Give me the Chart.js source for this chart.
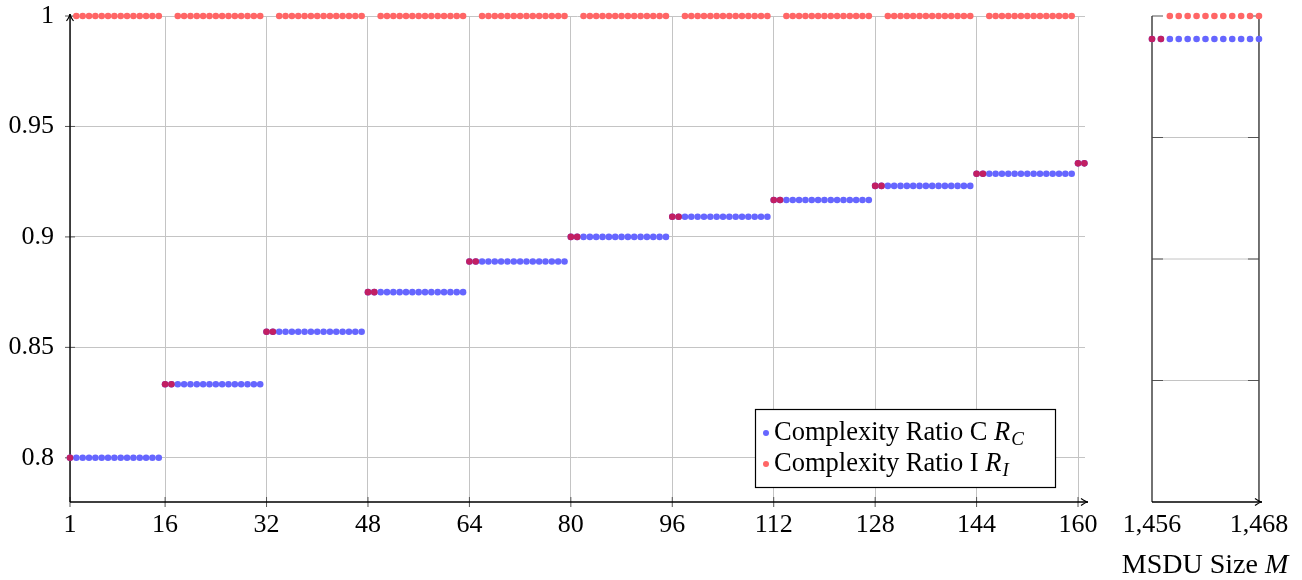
<!DOCTYPE html>
<html>
<head>
<meta charset="utf-8">
<script src="https://cdn.jsdelivr.net/npm/chart.js@4/dist/chart.umd.min.js"></script>
<style>
body { margin: 0; background: #fff; width: 1302px; height: 580px; overflow: hidden; position: relative; }
canvas { position: absolute; top: 0; }
#left { left: 0; }
#right { left: 1100px; }
</style>
</head>
<body>
<canvas id="left" width="1100" height="580"></canvas>
<canvas id="right" width="202" height="580"></canvas>
<script>
// left panel, read as runs of equal R_C: first M, last M, level
const runFirstM = [1, 16, 32, 48, 64, 80, 96, 112, 128, 144, 160];
const runLastM = [15, 31, 47, 63, 79, 95, 111, 127, 143, 159, 161];
const levelC = [0.8, 0.8333, 0.8571, 0.875, 0.8889, 0.9, 0.9091, 0.9167, 0.9231, 0.9286, 0.9333];
// how many points at the start of each run where R_I sits on R_C (else R_I = 1)
const sharedCount = [1, 2, 2, 2, 2, 2, 2, 2, 2, 2, 2];
const levelI = 1;

// right panel, point by point
const mRight = [1456, 1457, 1458, 1459, 1460, 1461, 1462, 1463, 1464, 1465, 1466, 1467, 1468];
const rcRight = [0.9896, 0.9896, 0.9896, 0.9896, 0.9896, 0.9896, 0.9896, 0.9896, 0.9896, 0.9896, 0.9896, 0.9896, 0.9896];
const riRight = [0.9896, 0.9896, 1, 1, 1, 1, 1, 1, 1, 1, 1, 1, 1];

const xTicksLeft = [1, 16, 32, 48, 64, 80, 96, 112, 128, 144, 160];
const xTicksRight = [1456, 1468];
const yTicksLeft = [0.8, 0.85, 0.9, 0.95, 1];
const yTicksRight = [0.78, 0.835, 0.89, 0.945, 1];

const COLORS = { c: '#6666ff', i: '#ff6666', both: '#c21f63', grid: '#c4c4c4', tick: '#555555' };
const FONT = "'Liberation Serif', 'DejaVu Serif', serif";

const leftC = [];
const leftI = [];
runFirstM.forEach((first, r) => {
    for (let m = first; m <= runLastM[r]; m++) {
        leftC.push({ x: m, y: levelC[r] });
        leftI.push({ x: m, y: m - first < sharedCount[r] ? levelC[r] : levelI });
    }
});
const rightC = mRight.map((m, k) => ({ x: m, y: rcRight[k] }));
const rightI = mRight.map((m, k) => ({ x: m, y: riRight[k] }));

const colorsI = (cPts, iPts) => iPts.map((p, k) => p.y === cPts[k].y ? COLORS.both : COLORS.i);

const arrow = (ctx, x, y, dx, dy) => {
    const px = -dy, py = dx;
    ctx.beginPath();
    ctx.moveTo(x - dx * 7 + px * 3.5, y - dy * 7 + py * 3.5);
    ctx.quadraticCurveTo(x - dx * 2, y - dy * 2, x, y);
    ctx.quadraticCurveTo(x - dx * 2, y - dy * 2, x - dx * 7 - px * 3.5, y - dy * 7 - py * 3.5);
    ctx.stroke();
};

const mathLabel = (ctx, x, y, plain, sym, sub, size = 26) => {
    ctx.textBaseline = 'middle';
    ctx.textAlign = 'left';
    ctx.font = size + 'px ' + FONT;
    ctx.fillText(plain, x, y);
    x += ctx.measureText(plain).width;
    ctx.font = 'italic ' + size + 'px ' + FONT;
    ctx.fillText(sym, x, y);
    x += ctx.measureText(sym).width + 1;
    if (sub) {
        ctx.font = 'italic 19px ' + FONT;
        ctx.fillText(sub, x, y + 7);
    }
};

const dataset = (label, pts, color) => ({
    label, data: pts, showLine: false, clip: false,
    pointRadius: 3.3, pointHoverRadius: 3.3, pointBorderWidth: 0,
    pointBackgroundColor: color, borderColor: color
});

const leftDecor = {
    id: 'leftDecor',
    beforeDatasetsDraw(chart) {
        const { ctx, chartArea: a, scales } = chart;
        ctx.save();
        ctx.strokeStyle = COLORS.tick;
        ctx.lineWidth = 1;
        xTicksLeft.forEach(v => {
            const x = scales.x.getPixelForValue(v);
            ctx.beginPath(); ctx.moveTo(x, a.bottom - 5); ctx.lineTo(x, a.bottom + 5); ctx.stroke();
        });
        yTicksLeft.forEach(v => {
            const y = scales.y.getPixelForValue(v);
            ctx.beginPath(); ctx.moveTo(a.left - 5, y); ctx.lineTo(a.left + 5, y); ctx.stroke();
        });
        ctx.strokeStyle = '#000';
        ctx.lineWidth = 1.4;
        ctx.beginPath();
        ctx.moveTo(a.left, a.bottom); ctx.lineTo(a.left, a.top - 2);
        ctx.moveTo(a.left, a.bottom); ctx.lineTo(a.right + 3, a.bottom);
        ctx.stroke();
        ctx.lineWidth = 1.2;
        arrow(ctx, a.left, a.top - 2, 0, -1);
        arrow(ctx, a.right + 3, a.bottom, 1, 0);
        ctx.restore();
    },
    afterDraw(chart) {
        const { ctx } = chart;
        ctx.save();
        ctx.fillStyle = '#fff';
        ctx.strokeStyle = '#000';
        ctx.lineWidth = 1.2;
        ctx.fillRect(755, 409, 300, 78);
        ctx.strokeRect(755.5, 409.5, 300, 78);
        const rows = [['Complexity Ratio C ', 'R', 'C', COLORS.c, 433], ['Complexity Ratio I ', 'R', 'I', COLORS.i, 464]];
        rows.forEach(([plain, sym, sub, color, y]) => {
            ctx.fillStyle = color;
            ctx.beginPath(); ctx.arc(766, y, 3, 0, Math.PI * 2); ctx.fill();
            ctx.fillStyle = '#000';
            mathLabel(ctx, 774, y, plain, sym, sub, 26.5);
        });
        ctx.restore();
    }
};

const rightDecor = {
    id: 'rightDecor',
    beforeDatasetsDraw(chart) {
        const { ctx, chartArea: a, scales } = chart;
        const xl = scales.x.getPixelForValue(xTicksRight[0]);
        const xr = scales.x.getPixelForValue(xTicksRight[1]);
        ctx.save();
        ctx.strokeStyle = COLORS.grid;
        ctx.lineWidth = 1;
        yTicksRight.slice(1, -1).forEach(v => {
            const y = scales.y.getPixelForValue(v);
            ctx.beginPath(); ctx.moveTo(xl, y); ctx.lineTo(xr, y); ctx.stroke();
        });
        ctx.strokeStyle = COLORS.tick;
        yTicksRight.slice(1).forEach(v => {
            const y = scales.y.getPixelForValue(v);
            ctx.beginPath();
            ctx.moveTo(xl, y); ctx.lineTo(xl + 11, y);
            ctx.moveTo(xr - 11, y); ctx.lineTo(xr, y);
            ctx.stroke();
        });
        ctx.strokeStyle = '#444';
        ctx.lineWidth = 1.5;
        ctx.beginPath();
        ctx.moveTo(xl, a.bottom); ctx.lineTo(xl, a.top);
        ctx.moveTo(xr, a.bottom); ctx.lineTo(xr, a.top);
        ctx.stroke();
        ctx.strokeStyle = '#000';
        ctx.lineWidth = 1.4;
        ctx.beginPath(); ctx.moveTo(xl, a.bottom); ctx.lineTo(a.right, a.bottom); ctx.stroke();
        ctx.lineWidth = 1.2;
        arrow(ctx, a.right, a.bottom, 1, 0);
        ctx.restore();
    },
    afterDraw(chart) {
        const { ctx } = chart;
        ctx.save();
        ctx.fillStyle = '#000';
        const plain = 'MSDU Size ';
        ctx.font = 'italic 28px ' + FONT;
        const wSym = ctx.measureText('M').width;
        ctx.font = '28px ' + FONT;
        const w = ctx.measureText(plain).width + wSym;
        mathLabel(ctx, 105 - w / 2, 566, plain, 'M', '', 28);
        ctx.restore();
    }
};

const tickFont = { family: FONT, size: 26 };

const makeChart = (canvasId, datasets, xMin, xMax, xTicks, yTicks, yShowLabels, yWidth, padding, plugin, fmt) => {
    const ctx = document.getElementById(canvasId);
    if (!ctx) return null;
    return new Chart(ctx, {
        type: 'scatter',
        data: { datasets },
        options: {
            responsive: false,
            animation: false,
            layout: { padding },
            plugins: { legend: { display: false }, tooltip: { enabled: false } },
            scales: {
                x: {
                    type: 'linear', min: xMin, max: xMax,
                    afterBuildTicks: s => { s.ticks = xTicks.map(value => ({ value })); },
                    afterFit: s => { s.height = 78; s.paddingLeft = 0; s.paddingRight = 0; },
                    grid: { display: yShowLabels, color: COLORS.grid, drawTicks: false },
                    border: { display: false },
                    ticks: { font: tickFont, color: '#000', padding: 8, maxRotation: 0, autoSkip: false, callback: fmt }
                },
                y: {
                    type: 'linear', min: 0.78, max: 1,
                    afterBuildTicks: s => { s.ticks = yTicks.map(value => ({ value })); },
                    afterFit: s => { s.width = yWidth; s.paddingTop = 0; s.paddingBottom = 0; },
                    grid: { display: yShowLabels, color: COLORS.grid, drawTicks: false },
                    border: { display: false },
                    ticks: { display: yShowLabels, font: tickFont, color: '#000', padding: 16, callback: v => String(v) }
                }
            }
        },
        plugins: [plugin]
    });
};

// red set goes first so Chart.js paints it above the blue one
makeChart('left', [
    dataset('Complexity Ratio I', leftI, colorsI(leftC, leftI)),
    dataset('Complexity Ratio C', leftC, COLORS.c)
], 1, 161.1, xTicksLeft, yTicksLeft, true, 70, { top: 16, right: 15, left: 0, bottom: 0 }, leftDecor, v => String(v));

makeChart('right', [
    dataset('Complexity Ratio I', rightI, colorsI(rightC, rightI)),
    dataset('Complexity Ratio C', rightC, COLORS.c)
], 1456, 1468.34, xTicksRight, yTicksRight, false, 52, { top: 16, right: 40, left: 0, bottom: 0 }, rightDecor, v => v.toLocaleString('en-US'));
</script>
</body>
</html>
